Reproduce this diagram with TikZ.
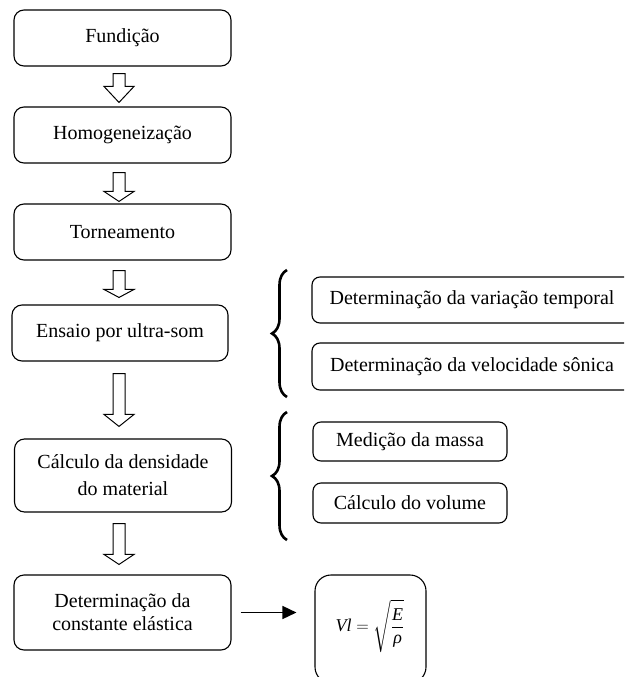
\documentclass[tikz,border=0pt]{standalone}
\usepackage{amsmath}
\usepackage{fontspec}
\setmainfont{Liberation Serif}
\usetikzlibrary{arrows.meta,calc,decorations.pathreplacing}
\newcommand\blockarr[5]{%
  \coordinate (bs) at ($(axis |- #1.south)+(0,#3)$);
  \coordinate (bt) at ($(axis |- #2.north)+(0,-#4)$);
  \draw[blockarrow] ($(bs)+(-6,0)$) -- ($(bt)+(-6,-#5)$) -- ($(bt)+(-15,-#5)$) -- (bt)
    -- ($(bt)+(15,-#5)$) -- ($(bt)+(6,-#5)$) -- ($(bs)+(6,0)$) -- cycle;}
\begin{document}
\begin{tikzpicture}[x=1pt,y=-1pt,
  box/.style={draw,line width=1.1pt,rounded corners=10pt,minimum width=217pt,minimum height=56pt,
    inner sep=0pt,align=center,font=\fontsize{20}{24}\selectfont},
  sbox/.style={draw,line width=1.1pt,rounded corners=8pt,inner sep=0pt,font=\fontsize{20}{24}\selectfont},
  blockarrow/.style={draw,line width=1pt,fill=white,line join=miter},
  bracestyle/.style={decorate,decoration={brace,amplitude=15pt},line width=2.6pt}]
\useasboundingbox (0,0) rectangle (624,677);
\clip (0,0) rectangle (624,677);
\coordinate (axis) at (119,0);
% main column
\node[box] (fund) at (122.5,38) {Fundição};
\node[box] (homo) at (122.5,135) {Homogeneização};
\node[box] (torn) at (122.5,232) {Torneamento};
\node[box,minimum width=216pt] (ens) at (120,333) {Ensaio por ultra-som};
\node[box,minimum height=73pt,font=\fontsize{20}{27}\selectfont] (dens) at (123,475.5) {Cálculo da densidade\\do material};
\node[box,minimum height=75pt,font=\fontsize{20}{23}\selectfont] (const) at (122.5,612.5) {Determinação da\\constante elástica};
% right column
\node[sbox,minimum width=320pt,minimum height=46pt] (vart) at (472,300) {Determinação da variação temporal};
\node[sbox,minimum width=320pt,minimum height=47pt] (vels) at (472,366.5) {Determinação da velocidade sônica};
\node[sbox,minimum width=194pt,minimum height=39pt] (mass) at (410,441.5) {Medição da massa};
\node[sbox,minimum width=194pt,minimum height=40pt] (vol) at (410,503) {Cálculo do volume};
% formula
\node[draw,line width=1.1pt,rounded corners=16pt,minimum width=111pt,minimum height=108pt] (fbox) at (370.5,629) {};
\node[inner sep=0pt] (form) at (370,626) {\fontsize{18}{21}\selectfont $\displaystyle \textit{Vl}=\sqrt{\frac{\textit{E}}{\textit{ρ}}}$};
% block arrows
\blockarr{fund}{homo}{7}{4}{16}
\blockarr{homo}{torn}{9}{2}{10}
\blockarr{torn}{ens}{10}{7}{8}
\blockarr{ens}{dens}{12}{12}{12}
\blockarr{dens}{const}{11}{10}{10}
% right arrow
\draw[line width=1.5pt,-{Triangle[length=14pt,width=13pt]},shorten <=9pt,shorten >=18pt]
  (const.east) -- (fbox.west |- const.east);
% braces
\draw[bracestyle] (287,397) -- (287,270);
\draw[bracestyle] (287,540) -- (287,412);
\end{tikzpicture}
\end{document}
